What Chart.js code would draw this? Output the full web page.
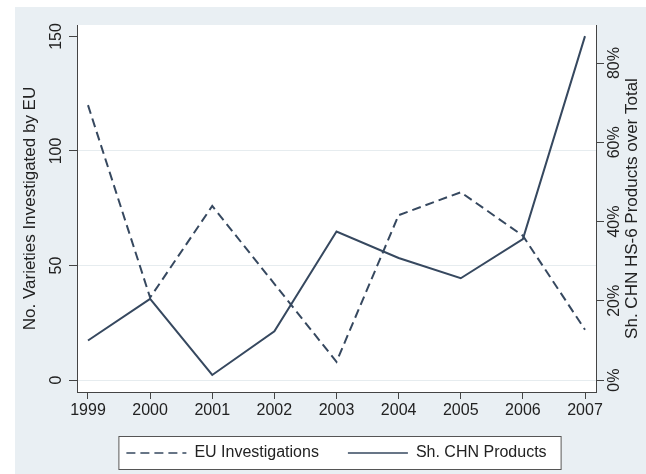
<!DOCTYPE html>
<html>
<head>
<meta charset="utf-8">
<script src="https://cdn.jsdelivr.net/npm/chart.js@4"></script>
<style>
  body { margin: 0; background: #fff; }
  canvas { display: block; }
</style>
</head>
<body>
<canvas id="lineChart" width="646" height="474"></canvas>
<script>
// values
const years = [1999, 2000, 2001, 2002, 2003, 2004, 2005, 2006, 2007];
const euInvestigations = [120, 36, 76, 42, 8, 72, 82, 63, 22];
const chnShare = [0.100, 0.205, 0.013, 0.123, 0.375, 0.308, 0.257, 0.356, 0.868];
const leftTicks = [0, 50, 100, 150];
const rightTicks = [0, 0.2, 0.4, 0.6, 0.8];
const seriesLabels = ['EU Investigations', 'Sh. CHN Products'];
const leftTitle = 'No. Varieties Investigated by EU';
const rightTitle = 'Sh. CHN HS-6 Products over Total';

const FONT = "'Liberation Sans', Arial, sans-serif";
const LINE = '#36485f';
const AXIS = '#444';
const TEXT = '#222';

// outer stata-like panel, plot region and legend frame
const backdrop = {
  id: 'backdrop',
  beforeDraw(chart) {
    const { ctx, chartArea: a, legend } = chart;
    ctx.save();
    ctx.fillStyle = '#fff';
    ctx.fillRect(0, 0, chart.width, chart.height);
    ctx.fillStyle = '#e9eff3';
    ctx.fillRect(15, 7, chart.width - 15, chart.height - 7);
    ctx.fillStyle = '#fff';
    ctx.fillRect(a.left, a.top, a.right - a.left, a.bottom - a.top);
    if (legend && legend.legendHitBoxes.length) {
      const boxes = legend.legendHitBoxes;
      const l = Math.min(...boxes.map(b => b.left)) - 8;
      const r = Math.max(...boxes.map(b => b.left + b.width)) + 15;
      const t = boxes[0].top - 9;
      const b = boxes[0].top + boxes[0].height + 9;
      ctx.fillRect(l, t, r - l, b - t);
      ctx.strokeStyle = '#555';
      ctx.lineWidth = 1;
      ctx.strokeRect(l + 0.5, t + 0.5, r - l - 1, b - t - 1);
    }
    ctx.restore();
  },
  afterDraw(chart) {
    // right axis title reads bottom to top like the left one
    const { ctx, chartArea: a } = chart;
    ctx.save();
    ctx.translate(632, (a.top + a.bottom) / 2);
    ctx.rotate(-Math.PI / 2);
    ctx.font = `17px ${FONT}`;
    ctx.fillStyle = TEXT;
    ctx.textAlign = 'center';
    ctx.textBaseline = 'middle';
    ctx.fillText(rightTitle, 0, 0);
    ctx.restore();
  }
};

new Chart(document.getElementById('lineChart'), {
  type: 'line',
  data: {
    datasets: [
      {
        label: seriesLabels[0],
        data: years.map((yr, i) => ({ x: yr, y: euInvestigations[i] })),
        yAxisID: 'y',
        borderColor: LINE,
        backgroundColor: LINE,
        borderWidth: 2,
        borderDash: [9, 5],
        pointRadius: 0,
        tension: 0
      },
      {
        label: seriesLabels[1],
        data: years.map((yr, i) => ({ x: yr, y: chnShare[i] })),
        yAxisID: 'y2',
        borderColor: LINE,
        backgroundColor: LINE,
        borderWidth: 2,
        pointRadius: 0,
        tension: 0
      }
    ]
  },
  options: {
    responsive: false,
    animation: false,
    layout: { padding: { left: 0, right: 0, top: 25, bottom: 3 } },
    plugins: {
      tooltip: { enabled: false },
      legend: {
        position: 'bottom',
        fullSize: false,
        labels: {
          usePointStyle: true,
          pointStyle: 'line',
          pointStyleWidth: 60,
          padding: 29,
          color: TEXT,
          font: { family: FONT, size: 16 },
          // point style drops the dash, so copy it back from each dataset
          generateLabels: chart =>
            Chart.defaults.plugins.legend.labels.generateLabels(chart).map((item, i) => ({
              ...item,
              strokeStyle: LINE,
              lineWidth: 1.6,
              lineDash: chart.data.datasets[i].borderDash || []
            }))
        }
      }
    },
    scales: {
      x: {
        type: 'linear',
        min: 1998.823,
        max: 2007.177,
        afterBuildTicks: s => { s.ticks = years.map(v => ({ value: v })); },
        afterFit: s => { s.height = 24; },
        grid: { drawOnChartArea: false, tickLength: 7, tickColor: AXIS },
        border: { color: AXIS, width: 1 },
        ticks: {
          autoSkip: false,
          maxRotation: 0,
          padding: 2,
          color: TEXT,
          font: { family: FONT, size: 16 },
          callback: v => String(v)
        }
      },
      y: {
        position: 'left',
        min: -5.2,
        max: 155,
        afterBuildTicks: s => { s.ticks = leftTicks.map(v => ({ value: v })); },
        afterFit: s => { s.width = 77; },
        grid: {
          color: c => (c.tick && c.tick.value === 150 ? 'rgba(0,0,0,0)' : '#e6ecef'),
          tickLength: 8,
          tickColor: AXIS
        },
        border: { color: AXIS, width: 1 },
        ticks: {
          autoSkip: false,
          minRotation: 90,
          maxRotation: 90,
          crossAlign: 'center',
          padding: -1,
          color: TEXT,
          font: { family: FONT, size: 16 }
        },
        title: {
          display: true,
          text: leftTitle,
          color: TEXT,
          font: { family: FONT, size: 17 },
          padding: { top: 20, bottom: 0 }
        }
      },
      y2: {
        position: 'right',
        min: -0.030,
        max: 0.896,
        afterBuildTicks: s => { s.ticks = rightTicks.map(v => ({ value: v })); },
        afterFit: s => { s.width = 50; },
        grid: { drawOnChartArea: false, tickLength: 8, tickColor: AXIS },
        border: { color: AXIS, width: 1 },
        ticks: {
          autoSkip: false,
          minRotation: 90,
          maxRotation: 90,
          crossAlign: 'center',
          padding: -5,
          color: TEXT,
          font: { family: FONT, size: 16 },
          callback: v => Math.round(v * 100) + '%'
        }
      }
    }
  },
  plugins: [backdrop]
});
</script>
</body>
</html>
